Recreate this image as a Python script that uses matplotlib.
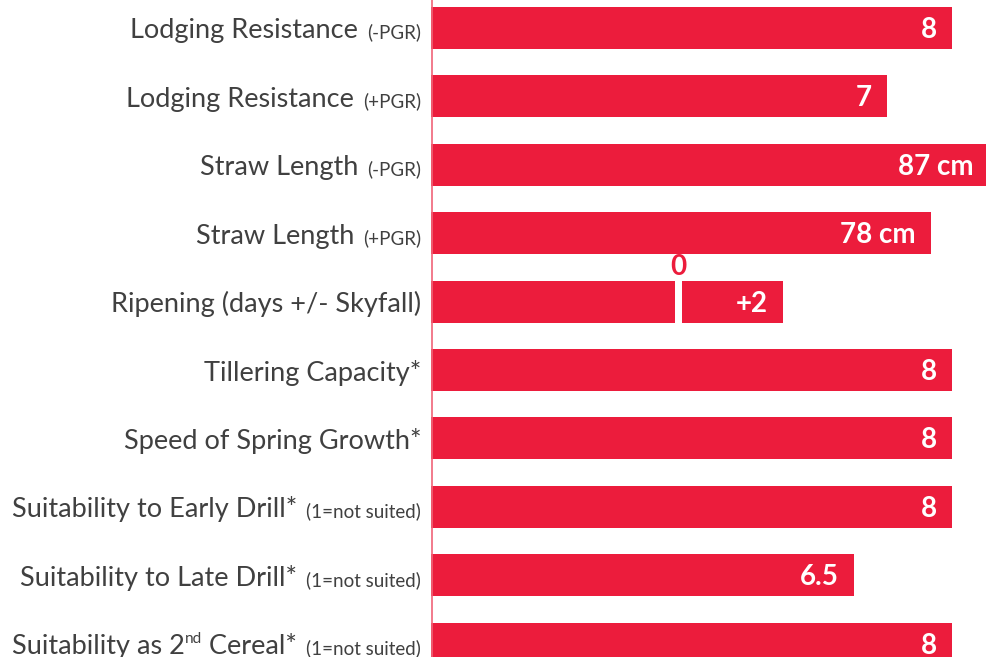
#!/usr/bin/env python3

import matplotlib
matplotlib.use("Agg")
import matplotlib.pyplot as plt
from matplotlib.transforms import IdentityTransform

# label pieces: (text, size key, rise in px)
labels = [
    [("Lodging Resistance", "big", 0), ("(-PGR)", "small", 0)],
    [("Lodging Resistance", "big", 0), ("(+PGR)", "small", 0)],
    [("Straw Length", "big", 0), ("(-PGR)", "small", 0)],
    [("Straw Length", "big", 0), ("(+PGR)", "small", 0)],
    [("Ripening (days +/- Skyfall)", "big", 0)],
    [("Tillering Capacity*", "big", 0)],
    [("Speed of Spring Growth*", "big", 0)],
    [("Suitability to Early Drill*", "big", 0), ("(1=not suited)", "small", 0)],
    [("Suitability to Late Drill*", "big", 0), ("(1=not suited)", "small", 0)],
    [("Suitability as 2", "big", 0), ("nd", "sup", 11), (" Cereal*", "big", 0),
     ("(1=not suited)", "small", 0)],
]

lodging_scores = [8, 7]
straw_cm = [87, 78]
ripening_days = 2
other_scores = [8, 8, 8, 6.5, 8]
value_labels = ["8", "7", "87 cm", "78 cm", "+2", "8", "8", "8", "6.5", "8"]

RED = "#EC1C3C"
GREY = "#404040"
FONT = "Lato"
SIZES = {"big": 19.5, "small": 13.5, "sup": 11}
GAP_BEFORE_SMALL = 9

CM_TO_SCORE = 8.565 / 87      # straw length drawn on the score scale
RIPE_ZERO = 3.8               # where "0 days" sits on the axis
DAY_TO_SCORE = 0.8
GAP = 0.11

W, H = 987, 657
AX_LEFT = 431.5
PX_PER_UNIT = 65
ROW_PX = 68.4
FIRST_ROW_PX = 28

fig = plt.figure(figsize=(W / 100, H / 100), dpi=100)
ax = fig.add_axes([AX_LEFT / W, 0, 1 - AX_LEFT / W, 1])
xmax = (W - AX_LEFT) / PX_PER_UNIT
ax.set_xlim(0, xmax)
ax.set_ylim((H - FIRST_ROW_PX) / ROW_PX, -FIRST_ROW_PX / ROW_PX)
ax.axis("off")

bar_h = 42 / ROW_PX
lengths = lodging_scores + [c * CM_TO_SCORE for c in straw_cm] + [None] + other_scores
ripe_row = 4

for i, length in enumerate(lengths):
    if i == ripe_row:
        end = RIPE_ZERO + ripening_days * DAY_TO_SCORE
        ax.barh(i, RIPE_ZERO - GAP / 2, height=bar_h, color=RED)
        ax.barh(i, end - RIPE_ZERO - GAP / 2, left=RIPE_ZERO + GAP / 2,
                height=bar_h, color=RED)
        ax.text(RIPE_ZERO, i - 0.5, "0", color=RED, fontsize=20, fontweight="bold",
                family=FONT, ha="center", va="center")
    else:
        end = length
        ax.barh(i, length, height=bar_h, color=RED)
    xt = min(end - 15 / PX_PER_UNIT, xmax - 2 / PX_PER_UNIT)
    ax.text(xt, i + 0.03, value_labels[i], color="white", fontsize=20, fontweight="bold",
            family=FONT, ha="right", va="center", clip_on=False)

ax.axvline(0.01, color="#F06478", lw=1.2)

# left labels, built right to left so the mixed sizes share one baseline
renderer = fig.canvas.get_renderer()
for i, parts in enumerate(labels):
    y_base = ax.transData.transform((0, i))[1] - 10.5
    x = AX_LEFT - 10.5
    for text, size, rise in reversed(parts):
        t = fig.text(x, y_base + rise, text, transform=IdentityTransform(),
                     fontsize=SIZES[size], family=FONT, color=GREY,
                     ha="right", va="baseline")
        x -= t.get_window_extent(renderer).width
        if size == "small":
            x -= GAP_BEFORE_SMALL

fig.savefig("out.png", dpi=100)
